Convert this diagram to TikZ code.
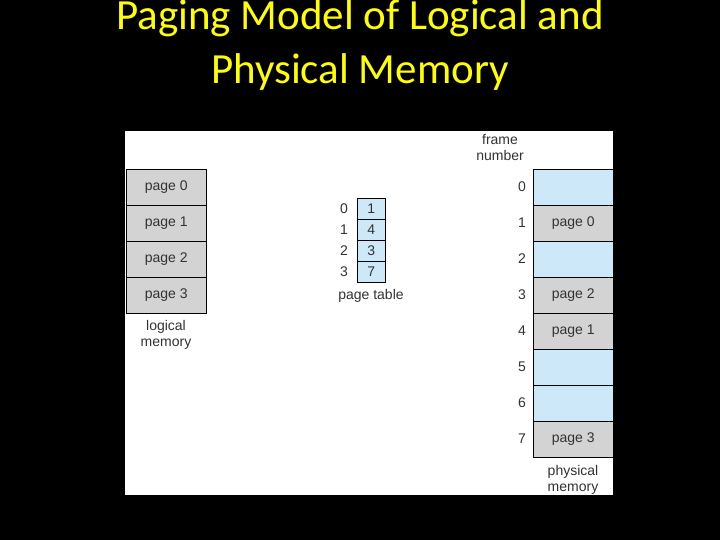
\documentclass[tikz,border=0pt]{standalone}
\usepackage{fontspec}
\setmainfont{Liberation Sans}
\newfontfamily\titlefont{Carlito}
\definecolor{pblue}{HTML}{CDE8F8}
\definecolor{pgray}{HTML}{D3D3D3}
\definecolor{tyellow}{HTML}{FFFF00}
\begin{document}
\begin{tikzpicture}[x=1pt,y=-1pt,
  cell/.style={draw=black,line width=0.6pt,minimum width=80pt,minimum height=36pt,inner sep=0pt,anchor=north west,font=\fontsize{14}{14}\selectfont,text=black!80},
  gcell/.style={cell,fill=pgray},
  bcell/.style={cell,fill=pblue},
  tcell/.style={draw=black,line width=0.6pt,fill=pblue,minimum width=28pt,minimum height=21pt,inner sep=0pt,anchor=north west,font=\fontsize{14}{14}\selectfont,text=black!80},
  lbl/.style={font=\fontsize{14}{16}\selectfont,text=black!80,align=center,inner sep=0pt}]
\fill[black] (0,0) rectangle (720,540);
\useasboundingbox (0,0) rectangle (720,540);
\fill[white] (125,131) rectangle (613,495);
\node[text=tyellow,font=\titlefont\fontsize{43}{54}\selectfont,align=center] (title) at (360,45) {Paging Model of Logical and\\Physical Memory};
% logical memory
\node[gcell] (l0) at (126,169) {page 0};
\node[gcell] (l1) at (126,205) {page 1};
\node[gcell] (l2) at (126,241) {page 2};
\node[gcell] (l3) at (126,277) {page 3};
\node[lbl] (lm) at (166,335) {logical\\memory};
% page table
\foreach \i/\v in {0/1,1/4,2/3,3/7}{
  \node[tcell] (t\i) at (357,198+21*\i) {\v};
  \node[lbl] (ti\i) at (344,208.5+21*\i) {\i};
}
\node[lbl] (pt) at (371,296) {page table};
% physical memory
\node[bcell] (f0) at (533,169) {};
\node[gcell] (f1) at (533,205) {page 0};
\node[bcell] (f2) at (533,241) {};
\node[gcell] (f3) at (533,277) {page 2};
\node[gcell] (f4) at (533,313) {page 1};
\node[bcell] (f5) at (533,349) {};
\node[bcell] (f6) at (533,385) {};
\node[gcell] (f7) at (533,421) {page 3};
\foreach \i in {0,...,7}{\node[lbl] (fn\i) at (522,187+36*\i) {\i};}
\node[lbl] (fnum) at (500,148) {frame\\number};
\node[lbl] (pm) at (573,480) {physical\\memory};
\end{tikzpicture}
\end{document}
